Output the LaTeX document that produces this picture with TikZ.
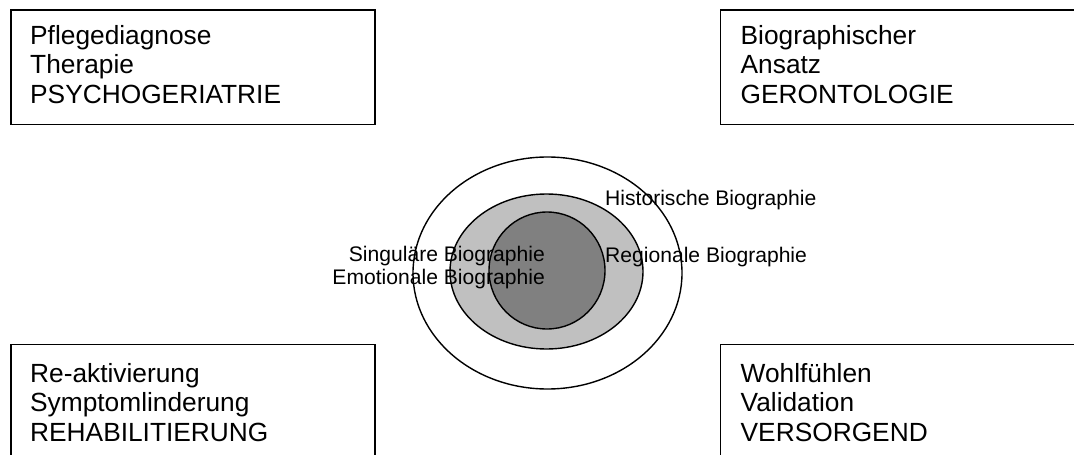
\documentclass[tikz,border=0pt]{standalone}
\usepackage{fontspec}
\setmainfont{Liberation Sans}
\usetikzlibrary{shapes.geometric}
\definecolor{midgray}{HTML}{C0C0C0}
\definecolor{darkgray}{HTML}{808080}
\begin{document}
\begin{tikzpicture}[x=1pt,y=-1pt,
  boxframe/.style={draw=black,line width=1.6pt,rectangle,inner sep=0pt,anchor=north west},
  boxtext/.style={anchor=base west,inner sep=0pt,font=\fontsize{26.3}{29.5}\selectfont},
  ring/.style={draw=black,line width=1.4pt,ellipse,inner sep=0pt},
  lbl/.style={inner sep=0pt,font=\fontsize{21.1}{23.5}\selectfont}]
\useasboundingbox (0,0) rectangle (1074,455);
% boxes
\node[boxframe,minimum width=364pt,minimum height=114.5pt] (tlbox) at (10,9) {};
\node[boxframe,minimum width=370pt,minimum height=114.5pt] (trbox) at (719.5,9) {};
\node[boxframe,minimum width=364pt,minimum height=130pt] (blbox) at (10,343.5) {};
\node[boxframe,minimum width=370pt,minimum height=130pt] (brbox) at (719.5,343.5) {};
% box texts
\node[boxtext] (tl1) at (30,44) {Pflegediagnose};
\node[boxtext] (tl2) at (30,73.5) {Therapie};
\node[boxtext] (tl3) at (30,103) {PSYCHOGERIATRIE};
\node[boxtext] (tr1) at (740.5,44) {Biographischer};
\node[boxtext] (tr2) at (740.5,73.5) {Ansatz};
\node[boxtext] (tr3) at (740.5,103) {GERONTOLOGIE};
\node[boxtext] (bl1) at (30,382) {Re-aktivierung};
\node[boxtext] (bl2) at (30,411.5) {Symptomlinderung};
\node[boxtext] (bl3) at (30,441) {REHABILITIERUNG};
\node[boxtext] (br1) at (740.5,382) {Wohlfühlen};
\node[boxtext] (br2) at (740.5,411.5) {Validation};
\node[boxtext] (br3) at (740.5,441) {VERSORGEND};
% rings
\node[ring,fill=white,minimum width=269pt,minimum height=232pt] (outer) at (547.5,273) {};
\node[ring,fill=midgray,minimum width=193pt,minimum height=155pt] (middle) at (546.5,271.5) {};
\node[ring,fill=darkgray,minimum width=116pt,minimum height=117pt] (inner) at (547,270.5) {};
% labels
\node[lbl,anchor=base west] (hist) at (605,205) {Historische Biographie};
\node[lbl,anchor=base west] (reg) at (605,262) {Regionale Biographie};
\node[lbl,anchor=base east] (sing) at (545,261) {Singuläre Biographie};
\node[lbl,anchor=base east] (emo) at (545,284) {Emotionale Biographie};
\end{tikzpicture}
\end{document}
